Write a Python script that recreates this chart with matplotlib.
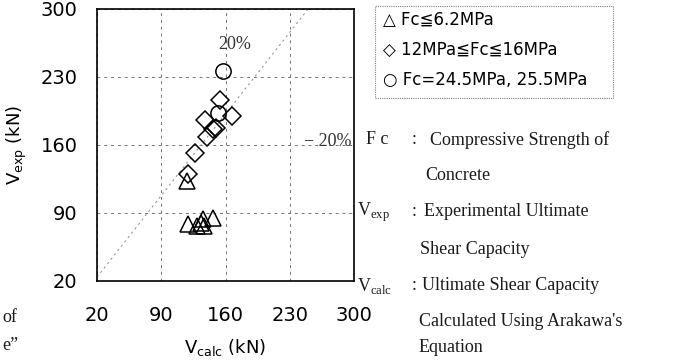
import numpy as np
import matplotlib.pyplot as plt

# Fc <= 6.2 MPa
tri_calc = [118, 119, 129, 133, 135, 137, 146]
tri_exp = [123, 79, 77, 80, 84, 77, 85]
# 12 MPa <= Fc <= 16 MPa
dia_calc = [119, 127, 140, 146, 150, 138, 154, 167]
dia_exp = [130, 152, 168, 176, 178, 186, 206, 190]
# Fc = 24.5, 25.5 MPa
cir_calc = [157, 152]
cir_exp = [236, 193]

ticks = [20, 90, 160, 230, 300]
legend_labels = ['\u25b3 Fc\u22666.2MPa', '\u25c7 12MPa\u2266Fc\u226616MPa',
                 '\u25cb Fc=24.5MPa, 25.5MPa']

W, H = 688, 360
sans = ['DejaVu Sans']
serif = ['Liberation Serif', 'DejaVu Serif']
sym = ['DejaVu Sans', 'Noto Sans CJK JP']


def px(x, y):
    return x / W, 1 - y / H


fig = plt.figure(figsize=(W / 100, H / 100), dpi=100)
ax = fig.add_axes([97 / W, 1 - 281 / H, 257 / W, 272 / H])

line = np.array([20, 300])
ax.plot(line, 1.2 * line, color='0.6', lw=0.8, ls=(0, (2, 3)))

ax.plot(tri_calc, tri_exp, ls='none', marker='^', ms=12, mfc='none', mec='k', mew=1.1)
ax.plot(dia_calc, dia_exp, ls='none', marker='D', ms=9.5, mfc='none', mec='k', mew=1.1)
ax.plot(cir_calc, cir_exp, ls='none', marker='o', ms=11, mfc='none', mec='k', mew=1.1)

ax.set_xlim(20, 300)
ax.set_ylim(20, 300)
ax.set_xticks(ticks)
ax.set_yticks(ticks)
ax.grid(True, color='0.45', lw=0.7, ls=(0, (3, 4)))
ax.tick_params(length=0, labelsize=14)
ax.tick_params(axis='x', pad=18)
ax.tick_params(axis='y', pad=14)
for lab in ax.get_xticklabels() + ax.get_yticklabels():
    lab.set_family(sans)
for s in ax.spines.values():
    s.set_linewidth(1.2)

ax.set_xlabel(r'V$_{\mathregular{calc}}$ (kN)', fontsize=13, family=sans, labelpad=9)
ax.set_ylabel(r'V$_{\mathregular{exp}}$ (kN)', fontsize=13, family=sans, labelpad=8)

ax.text(152, 263, '20%', fontsize=13, family=serif, color='0.2', va='center')
ax.text(245, 164, '\u2212 20%', fontsize=13, family=serif, color='0.2', va='center')

# legend box
box = plt.Rectangle(px(375, 98), 238 / W, 92 / H, transform=fig.transFigure,
                    fill=False, ec='0.5', lw=0.8, ls=(0, (1, 1)))
fig.add_artist(box)
for i, lab in enumerate(legend_labels):
    fig.text(*px(383, 20 + 30 * i), lab, fontsize=12, family=sym, va='center')

# definitions: (label x, y, label, text x, text)
notes = [
    (366, 140, 'F c', 430, 'Compressive Strength of'),
    (None, 176, '', 425, 'Concrete'),
    (357, 212, r'V$_{\mathregular{exp}}$', 424, 'Experimental Ultimate'),
    (None, 249, '', 420, 'Shear Capacity'),
    (357, 286, r'V$_{\mathregular{calc}}$', 422, 'Ultimate Shear Capacity'),
    (None, 322, '', 419, "Calculated Using Arakawa's"),
    (None, 347, '', 419, 'Equation'),
]
for lx, y, lab, tx, t in notes:
    if lx is not None:
        fig.text(*px(lx, y), lab, fontsize=13, family=serif, va='center', color='0.1')
        fig.text(*px(412, y), ':', fontsize=13, family=serif, va='center', color='0.1')
    fig.text(*px(tx, y), t, fontsize=13, family=serif, va='center', color='0.1')

# clipped text from neighbouring column
fig.text(*px(2, 317), 'of', fontsize=13, family=serif, va='center', color='0.1')
fig.text(*px(2, 345), 'e\u201d', fontsize=13, family=serif, va='center', color='0.1')

fig.savefig('out.png', dpi=100)
